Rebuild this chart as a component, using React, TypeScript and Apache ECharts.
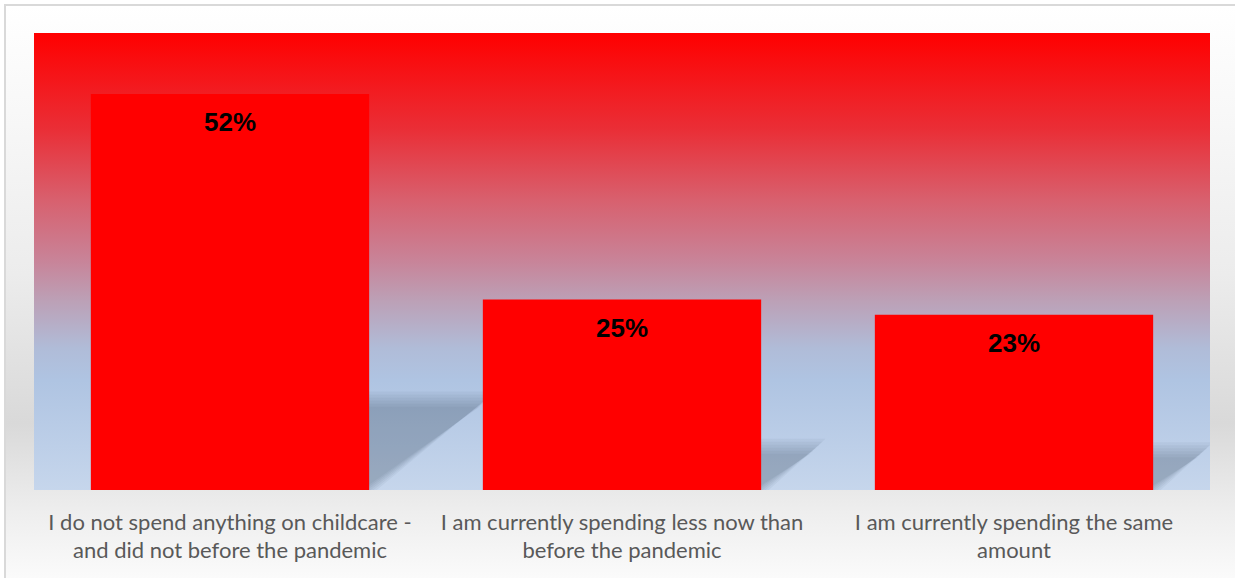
import React, { useEffect, useRef } from "react";
import * as echarts from "echarts";

const categories = [
  "I do not spend anything on childcare -\nand did not before the pandemic",
  "I am currently spending less now than\nbefore the pandemic",
  "I am currently spending the same\namount",
];
const values = [52, 25, 23];

export default function App() {
  const ref = useRef<HTMLDivElement>(null);
  useEffect(() => {
    document.body.style.margin = "0";
    const chart = echarts.init(ref.current!, null, { renderer: "svg" });
    const plotGradient = new echarts.graphic.LinearGradient(0, 0, 0, 1, [
      { offset: 0, color: "#ff0000" },
      { offset: 0.21, color: "#ea2e36" },
      { offset: 0.365, color: "#d8606e" },
      { offset: 0.5, color: "#c88499" },
      { offset: 0.585, color: "#bca0b6" },
      { offset: 0.69, color: "#b0bcd8" },
      { offset: 0.76, color: "#afc4e2" },
      { offset: 1, color: "#c6d6ec" },
    ]);
    chart.setOption({
      animation: false,
      backgroundColor: "transparent",
      grid: {
        left: 34,
        right: 25,
        top: 33,
        bottom: 88,
        show: true,
        backgroundColor: plotGradient,
        borderWidth: 0,
      },
      xAxis: {
        type: "category",
        data: categories,
        axisLine: { show: false },
        axisTick: { show: false },
        axisLabel: {
          color: "#595959",
          fontFamily: "Lato, 'Noto Sans', sans-serif",
          fontSize: 22,
          lineHeight: 28,
          margin: 17,
          interval: 0,
        },
      },
      yAxis: {
        type: "value",
        min: 0,
        max: 60,
        show: false,
        splitLine: { show: false },
      },
      series: [
        {
          type: "custom",
          clip: true,
          z: 1,
          data: values.map((v, i) => [i, v]),
          renderItem: (params: any, api: any) => {
            const base = api.coord([api.value(0), 0]);
            const top = api.coord([api.value(0), api.value(1)]);
            const bw = api.size([1, 0])[0] * 0.71;
            const bottom = base[1];
            const h = bottom - top[1];
            const sh = 0.23 * h;
            const dx = 1.3 * sh;
            const left = base[0] - bw / 2;
            const right = base[0] + bw / 2;
            const layers = [];
            const n = 6;
            for (let k = 0; k < n; k++) {
              const e = (k - (n - 1) / 2) * 3;
              layers.push({
                type: "polygon",
                shape: {
                  points: [
                    [left, bottom],
                    [right + e, bottom],
                    [right + dx + e, bottom - sh - e],
                    [left + dx, bottom - sh - e],
                  ],
                },
                style: { fill: "rgba(40,55,80,0.05)" },
              });
            }
            return { type: "group", children: layers };
          },
        },
        {
          type: "bar",
          z: 3,
          data: values,
          barWidth: "71%",
          itemStyle: { color: "#ff0000" },
          label: {
            show: true,
            position: "insideTop",
            distance: 15,
            formatter: "{c}%",
            color: "#000000",
            fontFamily: "'Liberation Sans', Arial, sans-serif",
            fontWeight: "bold",
            fontSize: 26,
          },
        },
      ],
    });
    return () => chart.dispose();
  }, []);
  return (
    <div style={{ position: "relative", width: 1235, height: 578, overflow: "hidden" }}>
      <div
        style={{
          position: "absolute",
          left: 4,
          top: 4,
          width: 1260,
          height: 600,
          boxSizing: "border-box",
          border: "2px solid #d9d9d9",
          background:
            "linear-gradient(to bottom, #ffffff 0%, #f7f7f7 20%, #ececec 45%, #d9d9d9 70%, #eeeeee 85%, #ffffff 100%)",
        }}
      />
      <div ref={ref} style={{ position: "absolute", left: 0, top: 0, width: 1235, height: 578 }} />
    </div>
  );
}
